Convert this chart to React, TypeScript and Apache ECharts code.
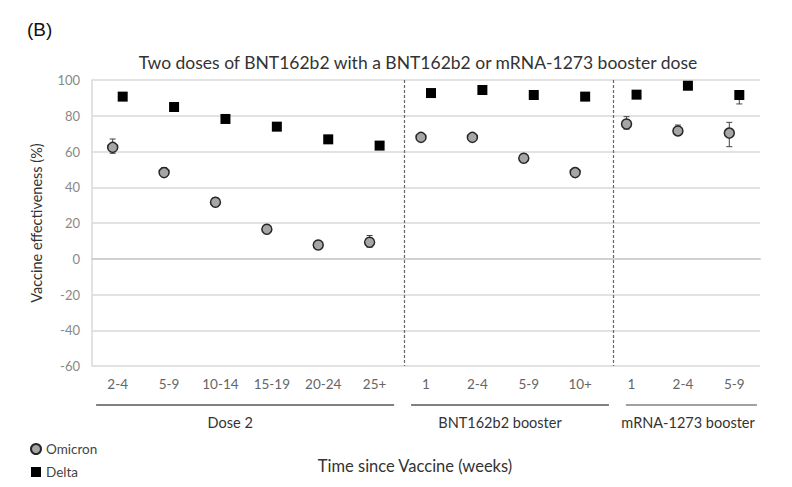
import React, { useEffect, useRef } from "react";
import * as echarts from "echarts";

const categories = ["2-4", "5-9", "10-14", "15-19", "20-24", "25+", "1", "2-4", "5-9", "10+", "1", "2-4", "5-9"];
const omicron = [62.3, 48.2, 31.6, 16.5, 7.7, 9.2, 67.9, 67.9, 56.2, 48.2, 75.4, 71.5, 70.3];
const omicronLow = [59, 46.5, 30, 15, 6.5, 6.5, 66.5, 66.5, 55, 47, 72.5, 69.5, 62.7];
const omicronHigh = [67, 51, 34, 18, 9, 13, 70, 70, 58, 50, 79.5, 74.8, 76.3];
const delta = [90.7, 84.9, 78.2, 73.9, 66.8, 63.3, 92.7, 94.4, 91.6, 90.7, 91.8, 96.8, 91.6];
const deltaLow = [89.5, 84, 77.5, 73, 66, 62, 92, 93.5, 91, 90, 91, 96, 86.6];
const deltaHigh = [92, 86, 79, 75, 67.5, 64.5, 93.5, 95.5, 92.5, 91.5, 92.5, 97.5, 94];
const yTicks = { min: -60, max: 100, interval: 20 };

const groupLabels = ["Dose 2", "BNT162b2 booster", "mRNA-1273 booster"];
const groupFrom = [-0.42, 5.71, 9.89];
const groupTo = [5.38, 9.56, 12.44];
const groupLabelAt = [2.19, 7.44, 11.1];
const separators = [5.57, 9.64];

const FONT = "Lato, 'Open Sans', sans-serif";

function errorSeries(low: number[], high: number[], offset: number) {
  return {
    type: "custom",
    silent: true,
    z: 1,
    data: low.map((l, i) => [i, l, high[i]]),
    encode: { x: 0, y: [1, 2] },
    renderItem: (params: any, api: any) => {
      const lo = api.coord([api.value(0), api.value(1)]);
      const hi = api.coord([api.value(0), api.value(2)]);
      const x = lo[0] + offset;
      const cap = 3;
      const style = { stroke: "#444", lineWidth: 1 };
      return {
        type: "group",
        children: [
          { type: "line", shape: { x1: x, y1: lo[1], x2: x, y2: hi[1] }, style },
          { type: "line", shape: { x1: x - cap, y1: lo[1], x2: x + cap, y2: lo[1] }, style },
          { type: "line", shape: { x1: x - cap, y1: hi[1], x2: x + cap, y2: hi[1] }, style },
        ],
      };
    },
  };
}

export default function App() {
  const ref = useRef<HTMLDivElement>(null);
  useEffect(() => {
    if (!ref.current) return;
    const chart = echarts.init(ref.current, null, { renderer: "svg" });
    chart.setOption({
      animation: false,
      backgroundColor: "#ffffff",
      textStyle: { fontFamily: FONT },
      title: [
        {
          text: "(B)",
          left: 22,
          top: 15,
          textStyle: { fontFamily: "'Liberation Sans', Arial, sans-serif", fontSize: 19, fontWeight: "normal", color: "#111" },
        },
        {
          text: "Two doses of BNT162b2 with a BNT162b2 or mRNA-1273 booster dose",
          left: 413,
          textAlign: "center",
          top: 48,
          textStyle: { fontFamily: FONT, fontSize: 17.5, fontWeight: "normal", color: "#333" },
        },
      ],
      legend: {
        left: 30,
        top: 442,
        padding: 0,
        orient: "vertical",
        itemWidth: 10,
        itemHeight: 10,
        itemGap: 9,
        textStyle: { fontFamily: FONT, fontSize: 13.5, color: "#444" },
        data: [
          { name: "Omicron", icon: "circle" },
          { name: "Delta", icon: "rect" },
        ],
      },
      grid: { left: 92, right: 32, top: 80, bottom: 121 },
      xAxis: [
        {
          type: "category",
          data: categories,
          boundaryGap: true,
          axisLine: { show: true, lineStyle: { color: "#d0d0d0", width: 2 } },
          axisTick: { show: false },
          axisLabel: { color: "#666", fontSize: 13.5, margin: 11, fontFamily: FONT, interval: 0 },
          splitLine: { show: false },
        },
        {
          type: "value",
          min: -0.5,
          max: 12.5,
          show: false,
        },
      ],
      yAxis: {
        type: "value",
        min: yTicks.min,
        max: yTicks.max,
        interval: yTicks.interval,
        name: "Vaccine effectiveness (%)",
        nameLocation: "middle",
        nameGap: 48,
        nameTextStyle: { color: "#333", fontSize: 14.5, fontFamily: FONT },
        axisLine: { show: true, onZero: false, lineStyle: { color: "#d9d9d9", width: 1.5 } },
        axisTick: { show: false },
        axisLabel: { color: "#888", fontSize: 13, margin: 12, fontFamily: FONT },
        splitLine: { show: true, lineStyle: { color: "#d9d9d9", width: 1.5 } },
      },
      series: [
        errorSeries(omicronLow, omicronHigh, -5),
        errorSeries(deltaLow, deltaHigh, 5),
        {
          name: "Omicron",
          type: "scatter",
          data: omicron,
          symbol: "circle",
          symbolSize: 10,
          symbolOffset: [-5, 0],
          z: 3,
          itemStyle: { color: "#a6a6a6", borderColor: "#262626", borderWidth: 1.5, opacity: 1 },
        },
        {
          name: "Delta",
          type: "scatter",
          data: delta,
          symbol: "rect",
          symbolSize: 10,
          symbolOffset: [5, 0],
          z: 3,
          itemStyle: { color: "#000", opacity: 1 },
        },
      ],
    });

    const px = (v: number) => chart.convertToPixel({ xAxisIndex: 1 }, v) as number;
    const py = (v: number) => chart.convertToPixel({ yAxisIndex: 0 }, v) as number;
    const yTop = py(yTicks.max);
    const yBot = py(yTicks.min);
    const graphics: any[] = [];
    separators.forEach((s) => {
      const x = Math.round(px(s)) + 0.5;
      graphics.push({
        type: "line",
        shape: { x1: x, y1: yTop, x2: x, y2: yBot },
        style: { stroke: "#666", lineWidth: 1.2, lineDash: [3, 2] },
        z: 5,
      });
    });
    groupLabels.forEach((g, i) => {
      graphics.push({
        type: "line",
        shape: { x1: px(groupFrom[i]), y1: 405, x2: px(groupTo[i]), y2: 405 },
        style: { stroke: "#808080", lineWidth: i === 2 ? 1.5 : 2 },
      });
      graphics.push({
        type: "text",
        x: px(groupLabelAt[i]),
        y: 422,
        style: {
          text: g,
          textAlign: "center",
          textVerticalAlign: "middle",
          fontFamily: FONT,
          fontSize: 14.5,
          fill: "#333",
        },
      });
    });
    graphics.push({
      type: "text",
      x: 415,
      y: 466,
      style: {
        text: "Time since Vaccine (weeks)",
        textAlign: "center",
        textVerticalAlign: "middle",
        fontFamily: FONT,
        fontSize: 16.5,
        fill: "#333",
      },
    });
    chart.setOption({ graphic: graphics });

    return () => chart.dispose();
  }, []);
  return <div ref={ref} style={{ width: 792, height: 487, position: "absolute", left: 0, top: 0 }} />;
}
